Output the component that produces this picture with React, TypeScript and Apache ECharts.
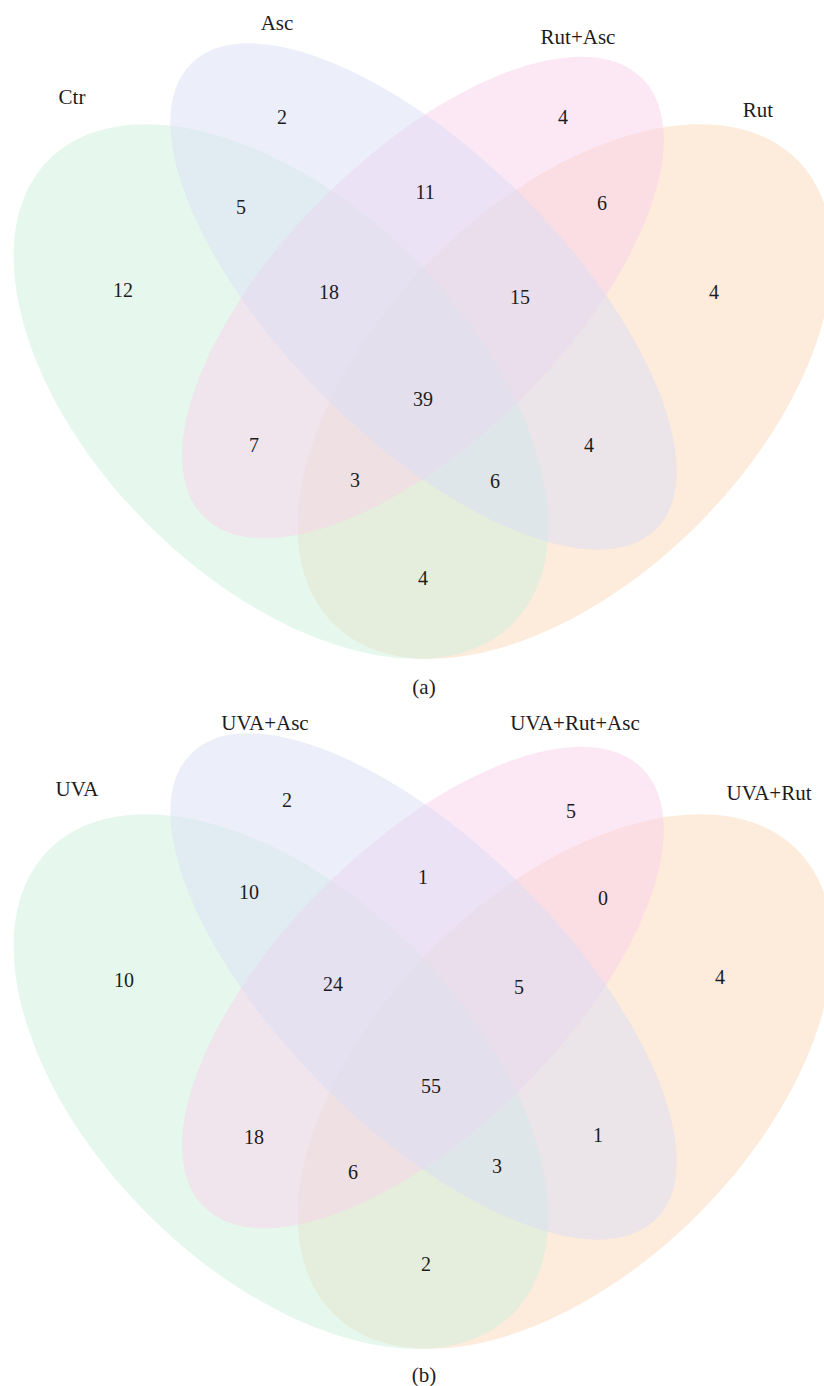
import React, { useEffect, useRef } from 'react';
import * as echarts from 'echarts';

// ---- data ----
const SET_NAMES_A = ['Ctr', 'Asc', 'Rut+Asc', 'Rut'];
const SET_NAMES_B = ['UVA', 'UVA+Asc', 'UVA+Rut+Asc', 'UVA+Rut'];
// region keys: membership in sets 1..4 (1 = first set name, ...)
const REGION_KEYS = ['1', '2', '3', '4', '12', '13', '14', '23', '24', '34', '123', '124', '134', '234', '1234'];
const VALUES_A = [12, 2, 4, 4, 5, 7, 4, 11, 4, 6, 18, 6, 3, 15, 39];
const VALUES_B = [10, 2, 5, 4, 10, 18, 2, 1, 1, 0, 24, 3, 6, 5, 55];
const CAPTIONS = ['(a)', '(b)'];

// ---- layout (panel-local pixel space) ----
const PANEL_W = 824;
const PANEL_H = 690;
const REGION_POS_A = [[123, 290], [282, 117], [563, 117], [714, 292], [241, 207], [254, 445], [423, 578], [425, 192], [589, 445], [602, 203], [329, 292], [495, 481], [355, 480], [520, 297], [423, 399]];
const REGION_POS_B = [[124, 290], [287, 110], [571, 121], [720, 287], [249, 202], [254, 447], [426, 574], [423, 187], [598, 445], [603, 208], [333, 294], [497, 476], [353, 482], [519, 297], [431, 396]];
const SET_LABEL_POS_A = [[72, 97], [277, 23], [578, 37], [758, 110]];
const SET_LABEL_POS_B = [[77, 99], [265, 33], [575, 33], [769, 103]];
const CAPTION_POS = [[424, 687], [424, 685]];
// ellipse per set: [cx, cy, rx, ry, rotationDeg]
const ELLIPSE_GEOM = [
  [281, 391.5, 328, 188, -45],
  [423.5, 296.5, 329, 141, -45],
  [423, 297.5, 310, 141, 45],
  [565, 391.5, 328, 188, 45],
];
const DRAW_ORDER = [3, 0, 2, 1];
const SET_COLORS = [
  'rgba(205,241,221,0.5)',
  'rgba(217,221,245,0.5)',
  'rgba(249,209,233,0.5)',
  'rgba(251,215,185,0.5)',
];
const FONT = "'Liberation Serif', 'Times New Roman', serif";
const TEXT_COLOR = '#1e1b1c';

export default function App() {
  const ref = useRef<HTMLDivElement>(null);
  useEffect(() => {
    if (!ref.current) return;
    const chart = echarts.init(ref.current, undefined, { renderer: 'svg' });
    const panels = [
      { names: SET_NAMES_A, values: VALUES_A, pos: REGION_POS_A, labelPos: SET_LABEL_POS_A },
      { names: SET_NAMES_B, values: VALUES_B, pos: REGION_POS_B, labelPos: SET_LABEL_POS_B },
    ];
    const grids: any[] = [];
    const xAxes: any[] = [];
    const yAxes: any[] = [];
    const series: any[] = [];
    panels.forEach((p, i) => {
      grids.push({ left: 0, top: i * PANEL_H, width: PANEL_W, height: PANEL_H });
      xAxes.push({ gridIndex: i, type: 'value', min: 0, max: PANEL_W, show: false });
      yAxes.push({ gridIndex: i, type: 'value', min: 0, max: PANEL_H, inverse: true, show: false });
      const ellData = DRAW_ORDER.map((s) => [...ELLIPSE_GEOM[s], s]);
      series.push({
        type: 'custom',
        xAxisIndex: i,
        yAxisIndex: i,
        data: ellData,
        silent: true,
        renderItem: (params: any, api: any) => {
          const c = api.coord([api.value(0), api.value(1)]);
          const s = api.size([api.value(2), api.value(3)]);
          return {
            type: 'ellipse',
            x: c[0],
            y: c[1],
            rotation: (api.value(4) * Math.PI) / 180,
            shape: { cx: 0, cy: 0, rx: s[0], ry: s[1] },
            style: { fill: SET_COLORS[api.value(5)], stroke: 'none' },
          };
        },
      });
      // region counts
      series.push({
        type: 'custom',
        xAxisIndex: i,
        yAxisIndex: i,
        data: p.pos.map((xy, k) => [xy[0], xy[1], p.values[k]]),
        silent: true,
        renderItem: (params: any, api: any) => {
          const c = api.coord([api.value(0), api.value(1)]);
          return {
            type: 'text',
            x: c[0],
            y: c[1],
            style: {
              text: String(p.values[params.dataIndex]),
              fill: TEXT_COLOR,
              fontSize: 20,
              fontFamily: FONT,
              align: 'center',
              verticalAlign: 'middle',
            },
          };
        },
      });
      // set names + caption
      const labels = [...p.names, CAPTIONS[i]];
      const lpos = [...p.labelPos, CAPTION_POS[i]];
      series.push({
        type: 'custom',
        xAxisIndex: i,
        yAxisIndex: i,
        data: lpos.map((xy) => [xy[0], xy[1]]),
        silent: true,
        renderItem: (params: any, api: any) => {
          const c = api.coord([api.value(0), api.value(1)]);
          return {
            type: 'text',
            x: c[0],
            y: c[1],
            style: {
              text: labels[params.dataIndex],
              fill: TEXT_COLOR,
              fontSize: 21,
              fontFamily: FONT,
              align: 'center',
              verticalAlign: 'middle',
            },
          };
        },
      });
    });
    chart.setOption({
      animation: false,
      backgroundColor: '#ffffff',
      grid: grids,
      xAxis: xAxes,
      yAxis: yAxes,
      series,
    });
    return () => chart.dispose();
  }, []);
  return (
    <div
      ref={ref}
      style={{ position: 'absolute', left: 0, top: 0, width: 824, height: 1386, background: '#fff' }}
    />
  );
}
